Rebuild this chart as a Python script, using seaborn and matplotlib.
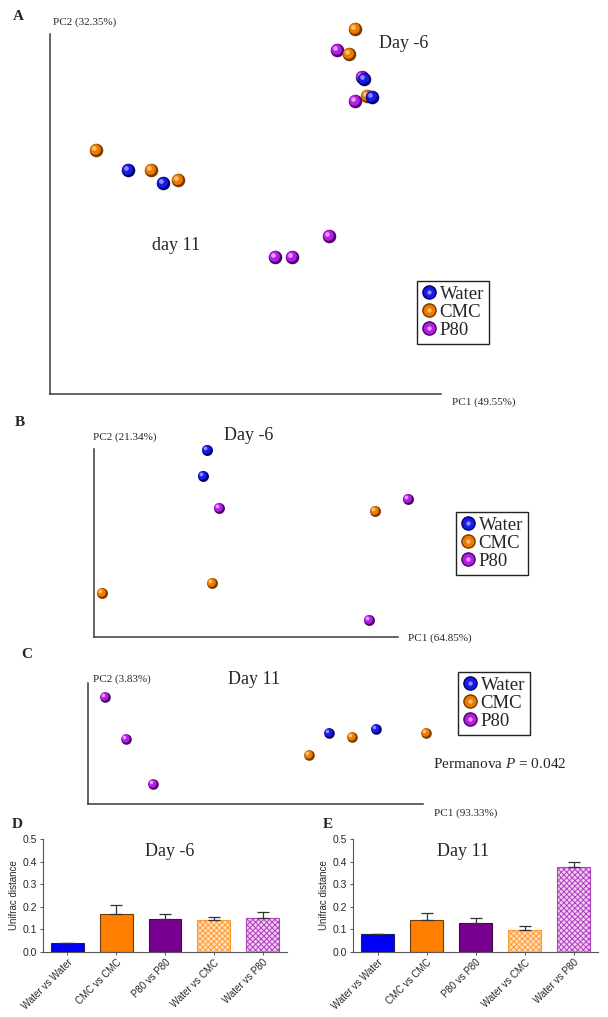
import numpy as np
import pandas as pd
import matplotlib
matplotlib.use("Agg")
import matplotlib.pyplot as plt
from matplotlib.lines import Line2D
from matplotlib.legend_handler import HandlerTuple
from matplotlib.transforms import offset_copy
import seaborn as sns

# ---------------- data ----------------
groups = ["Water", "CMC", "P80"]

# Panel A (both time points), relative PC scores
a_water_pc1 = [80.3, 82.4, 19.9, 28.9]
a_water_pc2 = [87.5, 82.5, 62.2, 58.6]
a_cmc_pc1 = [78.0, 76.5, 81.1, 11.8, 25.8, 32.7]
a_cmc_pc2 = [101.4, 94.4, 82.8, 67.8, 62.2, 59.4]
a_p80_pc1 = [73.4, 79.8, 78.0, 71.4, 57.5, 61.9]
a_p80_pc2 = [95.6, 88.1, 81.4, 43.9, 38.1, 38.1]

# Panel B (Day -6)
b_water_pc1 = [37.2, 35.9]
b_water_pc2 = [99.5, 85.6]
b_cmc_pc1 = [92.4, 38.8, 2.6]
b_cmc_pc2 = [67.0, 28.7, 23.4]
b_p80_pc1 = [41.1, 103.3, 90.5]
b_p80_pc2 = [68.6, 73.4, 9.0]

# Panel C (Day 11)
c_water_pc1 = [71.9, 86.0]
c_water_pc2 = [58.7, 62.0]
c_cmc_pc1 = [66.0, 78.8, 100.9]
c_cmc_pc2 = [40.5, 55.4, 58.7]
c_p80_pc1 = [5.1, 11.3, 19.4]
c_p80_pc2 = [88.4, 53.7, 16.5]

# Panels D / E
bar_labels = ["Water vs Water", "CMC vs CMC", "P80 vs P80", "Water vs CMC", "Water vs P80"]
d_mean = [0.041, 0.170, 0.148, 0.143, 0.151]
d_err = [0.0, 0.036, 0.022, 0.012, 0.024]
e_mean = [0.078, 0.142, 0.128, 0.097, 0.376]
e_err = [0.0, 0.029, 0.022, 0.018, 0.021]
y_ticks = [0.0, 0.1, 0.2, 0.3, 0.4, 0.5]

# ---------------- style ----------------
sns.set_style("white")
plt.rcParams["font.family"] = ["Liberation Serif", "DejaVu Serif"]
plt.rcParams["mathtext.fontset"] = "custom"
plt.rcParams["mathtext.rm"] = "Liberation Serif"
plt.rcParams["mathtext.it"] = "Liberation Serif:italic"
plt.rcParams["hatch.linewidth"] = 0.7

W, H = 608, 1017
fig = plt.figure(figsize=(W / 100, H / 100), dpi=100)

def rect(l, t, r, b):
    return [l / W, 1 - b / H, (r - l) / W, (b - t) / H]

def ftext(x, y, s, **kw):
    fig.text(x / W, 1 - y / H, s, va="center", **kw)

ball = {
    "Water": ("#00006e", "#1a1ae8", "#8c8cff"),
    "CMC": ("#7a3a00", "#ee7a00", "#ffc070"),
    "P80": ("#4e006a", "#b21ee6", "#ec9cff"),
}

def balls(ax, xs, ys, grp, s):
    dark, mid, light = ball[grp]
    df = pd.DataFrame({"x": xs, "y": ys})
    sns.scatterplot(data=df, x="x", y="y", ax=ax, s=s, color=dark,
                    linewidth=0, clip_on=False, legend=False, zorder=3)
    sns.scatterplot(data=df, x="x", y="y", ax=ax, s=s * 0.62, color=mid,
                    linewidth=0, clip_on=False, legend=False, zorder=3,
                    transform=offset_copy(ax.transData, fig=fig, x=-0.8, y=0.8, units="dots"))
    sns.scatterplot(data=df, x="x", y="y", ax=ax, s=s * 0.12, color=light,
                    linewidth=0, clip_on=False, legend=False, zorder=3,
                    transform=offset_copy(ax.transData, fig=fig, x=-2.0, y=2.0, units="dots"))

def pcoa_axes(r):
    ax = fig.add_axes(r)
    ax.set_xlim(0, 100)
    ax.set_ylim(0, 100)
    ax.set_xticks([])
    ax.set_yticks([])
    ax.set_xlabel("")
    ax.set_ylabel("")
    for side in ["top", "right"]:
        ax.spines[side].set_visible(False)
    for side in ["left", "bottom"]:
        ax.spines[side].set_color("#3a3a3a")
        ax.spines[side].set_linewidth(1.1)
    ax.patch.set_alpha(0)
    return ax

def add_legend(ax, l, t, fs=13.5, ms=10.5):
    handles = []
    for g in groups:
        dark, mid, light = ball[g]
        handles.append((Line2D([], [], ls="", marker="o", ms=ms, color=dark, mew=0),
                        Line2D([], [], ls="", marker="o", ms=ms * 0.8, color=mid, mew=0),
                        Line2D([], [], ls="", marker="o", ms=ms * 0.3, color=light, mew=0)))
    leg = ax.legend(handles, groups, handler_map={tuple: HandlerTuple(ndivide=1)},
                    loc="upper left", bbox_to_anchor=(l / W, 1 - t / H),
                    bbox_transform=fig.transFigure, frameon=True, fancybox=False,
                    edgecolor="#222222", framealpha=1, fontsize=fs,
                    handlelength=0.75, handletextpad=0.2, labelspacing=0.05,
                    borderpad=0.25, borderaxespad=0)
    leg.get_frame().set_linewidth(1.0)

# ---------------- Panel A ----------------
axA = pcoa_axes(rect(50, 34, 441, 394))
balls(axA, a_p80_pc1, a_p80_pc2, "P80", 95)
balls(axA, a_cmc_pc1, a_cmc_pc2, "CMC", 95)
balls(axA, a_water_pc1, a_water_pc2, "Water", 95)
add_legend(axA, 417, 281)
ftext(18, 16, "A", fontsize=11, fontweight="bold", ha="center")
ftext(53, 22, "PC2 (32.35%)", fontsize=8)
ftext(452, 402, "PC1 (49.55%)", fontsize=8)
ftext(379, 43, "Day -6", fontsize=13)
ftext(152, 245, "day 11", fontsize=13)

# ---------------- Panel B ----------------
axB = pcoa_axes(rect(94, 449, 398, 637))
balls(axB, b_p80_pc1, b_p80_pc2, "P80", 62)
balls(axB, b_cmc_pc1, b_cmc_pc2, "CMC", 62)
balls(axB, b_water_pc1, b_water_pc2, "Water", 62)
add_legend(axB, 456, 512)
ftext(20, 423, "B", fontsize=11, fontweight="bold", ha="center")
ftext(93, 437, "PC2 (21.34%)", fontsize=8)
ftext(224, 436, "Day -6", fontsize=13)
ftext(408, 638, "PC1 (64.85%)", fontsize=8)

# ---------------- Panel C ----------------
axC = pcoa_axes(rect(88, 683, 423, 804))
balls(axC, c_p80_pc1, c_p80_pc2, "P80", 58)
balls(axC, c_cmc_pc1, c_cmc_pc2, "CMC", 58)
balls(axC, c_water_pc1, c_water_pc2, "Water", 58)
add_legend(axC, 458, 672)
ftext(27, 655, "C", fontsize=11, fontweight="bold", ha="center")
ftext(93, 679, "PC2 (3.83%)", fontsize=8)
ftext(228, 679, "Day 11", fontsize=13)
ftext(434, 813, "PC1 (93.33%)", fontsize=8)
ftext(433, 764, r"Permanova $\it{P}$ = 0.042", fontsize=11)

# ---------------- Panels D / E ----------------
bar_face = ["#0000f5", "#ff8000", "#780090", "#ffe0bc", "#f2ccf2"]
bar_edge = ["#202060", "#6a3a10", "#3a1040", "#ff9a30", "#b040c0"]
bar_hatch = [None, None, None, "xxxxxx", "xxxxxx"]
sans = ["Liberation Sans", "DejaVu Sans"]

def bar_panel(r, means, errs, title, title_x):
    ax = fig.add_axes(r)
    df = pd.DataFrame({"cmp": bar_labels, "val": means})
    sns.barplot(data=df, x="cmp", y="val", hue="cmp", palette=bar_face,
                legend=False, ax=ax, width=0.67, saturation=1, errorbar=None)
    for p, ec, h in zip(ax.patches, bar_edge, bar_hatch):
        p.set_edgecolor(ec)
        p.set_linewidth(0.8)
        if h:
            p.set_hatch(h)
    xs = np.arange(len(bar_labels))
    ax.errorbar(xs, means, yerr=[np.zeros(len(errs)), errs], fmt="none",
                ecolor="#333333", elinewidth=0.9, capsize=4, capthick=0.9, zorder=1)
    ax.set_xlim(-0.5, 4.5)
    ax.set_ylim(0, 0.5)
    ax.set_yticks(y_ticks)
    ax.set_yticklabels([f"{v:.1f}" for v in y_ticks], fontsize=7.5, family=sans)
    ax.set_xticks(xs)
    ax.set_xticklabels(bar_labels, rotation=45, ha="right", rotation_mode="anchor",
                       fontsize=7, family=sans)
    ax.set_xlabel("")
    ax.set_ylabel("Unifrac distance", fontsize=7, family=sans, labelpad=3)
    ax.tick_params(axis="both", length=2.5, width=0.7, pad=1.5, color="#555555",
                   bottom=True, left=True)
    for side in ["top", "right"]:
        ax.spines[side].set_visible(False)
    for side in ["left", "bottom"]:
        ax.spines[side].set_color("#555555")
        ax.spines[side].set_linewidth(0.8)
    ax.patch.set_alpha(0)
    ax.text(title_x, 0.885, title, transform=ax.transAxes, ha="center", va="center",
            fontsize=13)
    return ax

axD = bar_panel(rect(43, 839, 287, 952), d_mean, d_err, "Day -6", 0.52)
axE = bar_panel(rect(353, 839, 598, 952), e_mean, e_err, "Day 11", 0.45)
ftext(17, 825, "D", fontsize=11, fontweight="bold", ha="center")
ftext(328, 825, "E", fontsize=11, fontweight="bold", ha="center")

fig.savefig("out.png", dpi=100)
